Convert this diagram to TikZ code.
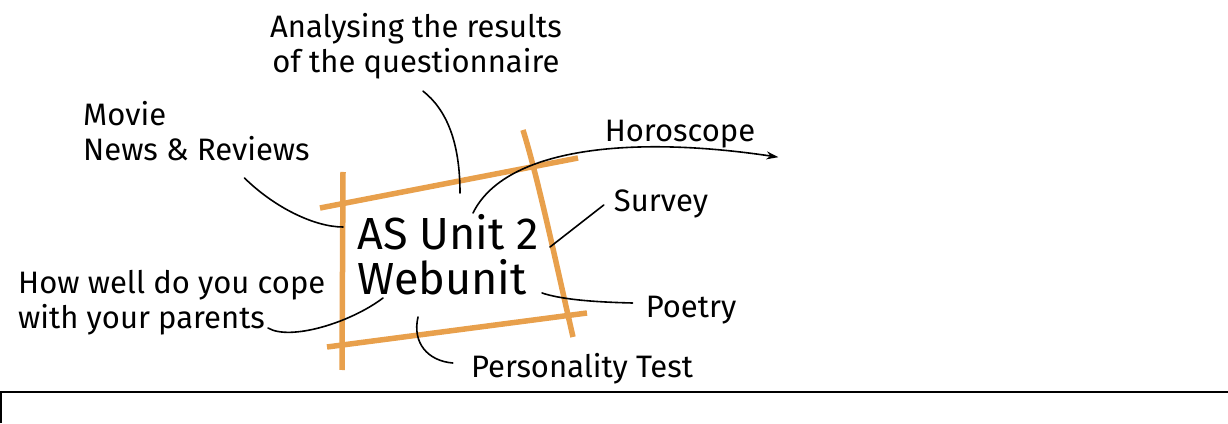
\documentclass[tikz,border=0pt]{standalone}
\usepackage{fontspec}
\setmainfont{Fira Sans}
\usetikzlibrary{arrows.meta}
\definecolor{markerorange}{RGB}{232,160,76}
\begin{document}
\begin{tikzpicture}[x=1pt,y=1pt] % схема веб-раздела
\tikzstyle{hubtext} = [align=left, inner sep=0pt, font=\fontsize{45}{45}\selectfont] % центральная надпись
\tikzstyle{leaf} = [inner sep=0pt, font=\fontsize{31}{35}\selectfont] % подписи вокруг центра
\tikzstyle{orangeline} = [draw=markerorange, line width=5.5pt] % оранжевая рамка
\tikzstyle{conn} = [draw, line width=1.6pt, line cap=round] % линия от подписи к центру
\useasboundingbox (0,0) rectangle (1228,423);
\draw[line width=2pt] (1,0) |- (1228,31); % рамка внизу
% оранжевая рамка вокруг центра
\draw[orangeline] (343,251) -- (342,53);
\draw[orangeline] (320,215) -- (578,265);
\draw[orangeline] (523,293) .. controls (538,245) and (556,160) .. (573,86);
\draw[orangeline] (327,76) -- (587,110);
% надписи
\node[hubtext] (hub) at (448,168) {AS Unit 2\\Webunit};
\node[leaf, align=center] (quest) at (416,377) {Analysing the results\\of the questionnaire};
\node[leaf, align=left, anchor=west] (movie) at (83,292) {Movie\\News \& Reviews};
\node[leaf] (horo) at (680,289) {Horoscope};
\node[leaf] (survey) at (661,219) {Survey};
\node[leaf] (poetry) at (691,113) {Poetry};
\node[leaf] (test) at (582,54) {Personality Test};
\node[leaf, align=left, anchor=west] (parents) at (18,120) {How well do you cope\\with your parents};
% концы линий у центра
\coordinate (questEnd) at (460,230);
\coordinate (movieEnd) at (343,196);
\coordinate (horoStart) at (473,210);
\coordinate (surveyEnd) at (550,176);
\coordinate (poetryEnd) at (542,130);
\coordinate (testEnd) at (418,106);
\coordinate (parentsEnd) at (383,125);
% линии
\draw[conn] ([shift={(7,-12)}]quest.south) .. controls (447,313) and (460,280) .. (questEnd);
\draw[conn] ([shift={(48,-17)}]movie.south) .. controls (275,215) and (315,196) .. (movieEnd);
\draw[conn, -{Stealth[length=12pt, width=8pt]}] (horoStart) .. controls (505,275) and (630,288) .. ([shift={(23,-9)}]horo.south east);
\draw[conn] ([shift={(-10,-1)}]survey.west) -- (surveyEnd);
\draw[conn] ([shift={(-13,7)}]poetry.west) .. controls (590,121) and (560,124) .. (poetryEnd);
\draw[conn] ([shift={(-18,6)}]test.west) .. controls (428,62) and (412,80) .. (testEnd);
\draw[conn] ([shift={(250,-25)}]parents.west) .. controls (290,82) and (350,100) .. (parentsEnd);
\end{tikzpicture}
\end{document}
